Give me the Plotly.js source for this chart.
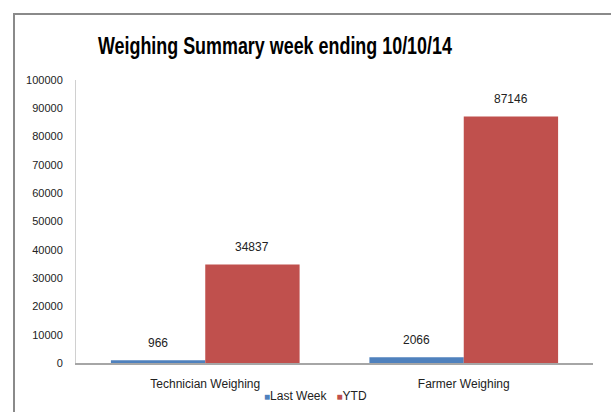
<!DOCTYPE html>
<html>
<head>
<meta charset="utf-8">
<script src="https://cdn.plot.ly/plotly-3.0.1.min.js"></script>
<style>
html,body{margin:0;padding:0;background:#fff;overflow:hidden}
#wrap{position:relative;width:611px;height:412px;overflow:hidden}
#chart{width:611px;height:412px}
#frame{position:absolute;left:13px;top:13px;width:700px;height:500px;border-left:2px solid #8a8a8a;border-top:2px solid #8a8a8a;pointer-events:none}
</style>
</head>
<body>
<div id="wrap"><div id="chart"></div><div id="frame"></div></div>
<script>
const categories = ["Technician Weighing", "Farmer Weighing"];
const lastWeek = [966, 2066];
const ytd = [34837, 87146];
const seriesNames = ["Last Week", "YTD"];
const seriesColors = ["#4F81BD", "#C0504D"];
const yTicks = [0, 10000, 20000, 30000, 40000, 50000, 60000, 70000, 80000, 90000, 100000];

const font = "Liberation Sans, Arial, sans-serif";
const traces = [
  {type: "bar", name: seriesNames[0], x: categories, y: lastWeek, marker: {color: seriesColors[0]}, hoverinfo: "none", showlegend: false},
  {type: "bar", name: seriesNames[1], x: categories, y: ytd, marker: {color: seriesColors[1]}, hoverinfo: "none", showlegend: false}
];

const annotations = [];
[lastWeek, ytd].forEach((vals, si) => {
  vals.forEach((v, i) => {
    annotations.push({
      x: categories[i], y: v, xref: "x", yref: "y",
      text: String(v), showarrow: false, yanchor: "bottom",
      xshift: si === 0 ? -47 : 47, yshift: 8,
      font: {family: font, size: 12, color: "#222"}
    });
  });
});
// legend (below the plot)
annotations.push({
  xref: "paper", yref: "paper", x: 0.36, xanchor: "left", y: -0.115, yanchor: "middle", showarrow: false,
  text: '<span style="color:' + seriesColors[0] + ';font-size:10px">■</span>' + seriesNames[0] +
        '   <span style="color:' + seriesColors[1] + ';font-size:10px">■</span>' + seriesNames[1],
  font: {family: font, size: 12, color: "#222"}
});

const layout = {
  width: 611, height: 412,
  margin: {l: 76, r: 18, t: 80, b: 49, autoexpand: false},
  paper_bgcolor: "#fff", plot_bgcolor: "#fff",
  title: {text: "Weighing Summary week ending 10/10/14", x: 0.45, xanchor: "center", y: 0.89, yanchor: "middle",
          font: {family: "Liberation Sans, Arial, sans-serif", size: 24, color: "#000", weight: "bold"}},
  bargap: 0.27, bargroupgap: 0,
  barmode: "group",
  showlegend: false,
  xaxis: {showline: true, linecolor: "#a6a6a6", linewidth: 1.5, ticks: "", showgrid: false,
          tickfont: {family: font, size: 12, color: "#222"}, ticklabelstandoff: 9},
  yaxis: {range: [0, 100000], tickvals: yTicks, ticktext: yTicks.map(String), showline: true, linecolor: "#d0d0d0", linewidth: 1,
          showgrid: false, zeroline: false, ticks: "", ticklabelstandoff: 10,
          tickfont: {family: font, size: 11, color: "#222"}},
  annotations: annotations
};

Plotly.newPlot("chart", traces, layout, {displayModeBar: false, staticPlot: true}).then(function (gd) {
  const t = gd.querySelector(".gtitle");
  if (t) {
    t.setAttribute("textLength", "354");
    t.setAttribute("lengthAdjust", "spacingAndGlyphs");
  }
});
</script>
</body>
</html>
